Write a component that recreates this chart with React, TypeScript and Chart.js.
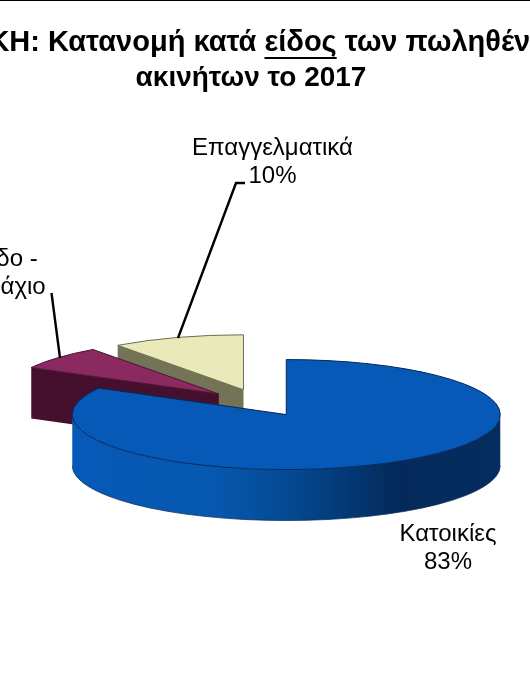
import React, { useEffect, useRef } from "react";
import { Chart, registerables } from "chart.js";

Chart.register(...registerables);

const categories = ["Κατοικίες", "Οικόπεδο - Αγροτεμάχιο", "Επαγγελματικά"];
const shares = [83, 7, 10];
const titleLines = ["ΑΤΤΙΚΗ: Κατανομή κατά είδος των πωληθέντων", "ακινήτων το 2017"];

const topColors = ["#0759b8", "#8a2a60", "#e9e9ba"];
const wallColors = ["#0759b8", "#45102e", "#737356"];
const edgeColors = ["#04285a", "#4e1436", "#6d6d50"];
const explode = [50, 56, 56];
const paintOrder = [2, 1, 0];

const OX = 260.8;
const OY = 403.5;
const RX = 214;
const K = 55 / 214;
const DEPTH = 51;

const FONT = '"Liberation Sans", Arial, sans-serif';

const pie3d = {
  id: "pie3d",
  beforeDatasetsDraw(chart: any) {
    const { ctx, chartArea } = chart;
    const cx = (chartArea.left + chartArea.right) / 2;
    const cy = (chartArea.top + chartArea.bottom) / 2;
    const arcs = chart.getDatasetMeta(0).data;
    paintOrder.forEach((i) => {
      const arc = arcs[i];
      const { startAngle: s, endAngle: e, outerRadius: r } = arc;
      const mid = (s + e) / 2;
      const X = OX + Math.cos(mid) * explode[i];
      const Y = OY + Math.sin(mid) * explode[i] * K;
      const ry = r * K;
      const px = (a: number) => X + Math.cos(a) * r;
      const py = (a: number) => Y + Math.sin(a) * ry;

      // side walls
      ctx.save();
      ctx.fillStyle = wallColors[i];
      const face = (a: number) => {
        ctx.beginPath();
        ctx.moveTo(X, Y);
        ctx.lineTo(px(a), py(a));
        ctx.lineTo(px(a), py(a) + DEPTH);
        ctx.lineTo(X, Y + DEPTH);
        ctx.closePath();
        ctx.fill();
      };
      if (Math.cos(s) < 0) face(s);
      if (Math.cos(e) > 0) face(e);
      const a0 = Math.max(s, 0);
      const a1 = Math.min(e, Math.PI);
      if (a1 > a0) {
        const g = ctx.createLinearGradient(X - r, 0, X + r, 0);
        g.addColorStop(0, "#0759b8");
        g.addColorStop(0.33, "#0758b0");
        g.addColorStop(0.52, "#044890");
        g.addColorStop(0.76, "#032a5a");
        g.addColorStop(1, "#042d60");
        ctx.fillStyle = g;
        ctx.beginPath();
        ctx.ellipse(X, Y, r, ry, 0, a0, a1);
        ctx.ellipse(X, Y + DEPTH, r, ry, 0, a1, a0, true);
        ctx.closePath();
        ctx.fill();
        ctx.strokeStyle = "rgba(4,40,90,0.7)";
        ctx.lineWidth = 1;
        ctx.beginPath();
        ctx.ellipse(X, Y + DEPTH, r, ry, 0, a1, a0, true);
        ctx.stroke();
      }
      ctx.restore();

      // top face, drawn by the library's own arc element
      ctx.save();
      ctx.translate(X, Y);
      ctx.scale(1, K);
      ctx.translate(-cx, -cy);
      arc.draw(ctx);
      ctx.beginPath();
      ctx.moveTo(cx, cy);
      ctx.arc(cx, cy, r, s, e);
      ctx.closePath();
      ctx.restore();
      ctx.strokeStyle = edgeColors[i];
      ctx.lineWidth = 1;
      ctx.stroke();
    });
    return false;
  },
  afterDraw(chart: any) {
    const { ctx } = chart;
    ctx.save();
    ctx.fillStyle = "#000";
    ctx.fillRect(0, 0, 530, 1);

    // title, which runs past both edges of the page
    ctx.font = `bold 29px ${FONT}`;
    ctx.textAlign = "left";
    ctx.textBaseline = "alphabetic";
    const line = titleLines[0];
    const word = "είδος";
    const left = 48 - ctx.measureText(line.slice(0, line.indexOf("Κατανομή"))).width;
    ctx.fillText(line, left, 51);
    const x0 = left + ctx.measureText(line.slice(0, line.indexOf(word))).width;
    ctx.fillRect(x0, 57, ctx.measureText(word).width, 2);
    ctx.font = `bold 28px ${FONT}`;
    ctx.textAlign = "center";
    ctx.fillText(titleLines[1], 251, 86);

    // slice labels
    ctx.font = `24px ${FONT}`;
    ctx.textBaseline = "middle";
    const text = (t: string, x: number, y: number) => ctx.fillText(t, x, y);
    text(categories[2], 272.5, 148);
    text(`${shares[2]}%`, 272.5, 176);
    text(categories[0], 448, 534);
    text(`${shares[0]}%`, 448, 562);
    const [a, b] = categories[1].split(" - ");
    text(`${a} -`, -21, 259);
    text(b, -21, 287);
    text(`${shares[1]}%`, -21, 315);

    // leader lines
    ctx.strokeStyle = "#000";
    ctx.lineWidth = 2.4;
    ctx.beginPath();
    ctx.moveTo(245, 183);
    ctx.lineTo(236, 183);
    ctx.lineTo(178, 338);
    ctx.moveTo(51.5, 293);
    ctx.lineTo(60, 358);
    ctx.stroke();
    ctx.restore();
  },
};

export default function App() {
  const ref = useRef<HTMLCanvasElement | null>(null);
  useEffect(() => {
    const chart = new Chart(ref.current as HTMLCanvasElement, {
      type: "pie",
      data: {
        labels: categories,
        datasets: [{ data: shares, backgroundColor: topColors, borderWidth: 0 }],
      },
      options: {
        animation: false,
        responsive: false,
        radius: RX,
        plugins: {
          legend: { display: false },
          tooltip: { enabled: false },
          title: { display: false },
        },
      },
      plugins: [pie3d],
    } as any);
    return () => chart.destroy();
  }, []);
  return (
    <div style={{ position: "absolute", left: 0, top: 0 }}>
      <canvas ref={ref} width={530} height={700} style={{ display: "block" }} />
    </div>
  );
}
